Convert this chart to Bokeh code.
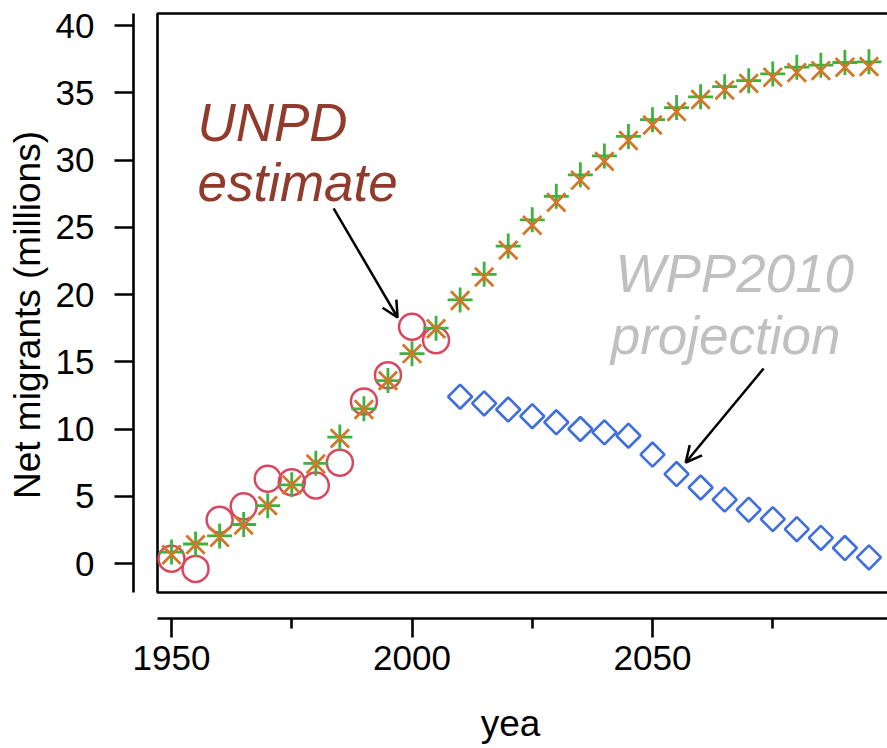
from bokeh.plotting import figure
from bokeh.models import Range1d, FixedTicker, Label, Arrow, OpenHead
from bokeh.embed import file_html
from bokeh.resources import INLINE
import math

# ---- data ----
est_years = [1950, 1955, 1960, 1965, 1970, 1975, 1980, 1985, 1990, 1995, 2000, 2005]
unpd_estimate = [0.35, -0.4, 3.25, 4.25, 6.3, 6.05, 5.8, 7.5, 12.05, 14.0, 17.6, 16.6]

proj_years = [1950, 1955, 1960, 1965, 1970, 1975, 1980, 1985, 1990, 1995,
              2000, 2005, 2010, 2015, 2020, 2025, 2030, 2035, 2040, 2045,
              2050, 2055, 2060, 2065, 2070, 2075, 2080, 2085, 2090, 2095]
series_plus = [0.85, 1.45, 2.05, 2.9, 4.3, 5.85, 7.45, 9.4, 11.5, 13.6,
               15.6, 17.5, 19.6, 21.5, 23.6, 25.55, 27.3, 28.9, 30.3, 31.75,
               33.0, 33.9, 34.7, 35.45, 35.9, 36.4, 36.9, 37.05, 37.25, 37.3]
series_x = [0.65, 1.4, 1.95, 2.85, 4.3, 5.85, 7.4, 9.3, 11.45, 13.6,
            15.6, 17.45, 19.55, 21.3, 23.3, 25.15, 26.85, 28.5, 29.9, 31.45,
            32.6, 33.6, 34.5, 35.2, 35.7, 36.15, 36.5, 36.65, 36.9, 36.95]

wpp_years = [2010, 2015, 2020, 2025, 2030, 2035, 2040, 2045, 2050,
             2055, 2060, 2065, 2070, 2075, 2080, 2085, 2090, 2095]
wpp2010 = [12.4, 11.9, 11.45, 10.95, 10.5, 10.0, 9.75, 9.5, 8.1,
           6.65, 5.65, 4.75, 4.0, 3.3, 2.55, 1.9, 1.15, 0.45]

y_ticks = [0, 5, 10, 15, 20, 25, 30, 35, 40]
x_major_ticks = [1950, 2000, 2050]
x_minor_ticks = [1975, 2025, 2075]

# ---- layout constants ----
W, H = 887, 748
B_LEFT, B_RIGHT, B_TOP, B_BOTTOM = 133, 0, 11, 130
FRAME_W = W - B_LEFT - B_RIGHT
FRAME_H = H - B_TOP - B_BOTTOM
PX_YR = 4.81
PX_UNIT = 13.45
x0 = 1950 - (171 - B_LEFT) / PX_YR
x1 = x0 + FRAME_W / PX_YR
y_top = (563 - B_TOP) / PX_UNIT
y_bot = y_top - FRAME_H / PX_UNIT
box_left = x0 + 24 / PX_YR
box_top = y_top - 2 / PX_UNIT
box_bottom = y_bot + 26 / PX_UNIT

FONT = "Liberation Sans"

p = figure(width=W, height=H, output_backend="svg", toolbar_location=None,
           x_range=Range1d(x0, x1), y_range=Range1d(y_bot, y_top),
           min_border_left=B_LEFT, min_border_right=B_RIGHT,
           min_border_top=B_TOP, min_border_bottom=B_BOTTOM)
p.outline_line_color = None
p.xgrid.visible = False
p.ygrid.visible = False
p.background_fill_color = "white"
p.border_fill_color = "white"

# box (top, left, bottom; right side runs off the page)
p.line([x1 + 5, box_left, box_left, x1 + 5], [box_top, box_top, box_bottom, box_bottom],
       line_color="black", line_width=2.6)

# data
p.scatter(est_years, unpd_estimate, marker="circle", size=26, fill_color=None,
          line_color="#D9475E", line_width=2.5)
p.scatter(proj_years, series_plus, marker="cross", size=25, line_color="#3DB33D", line_width=2.8)
p.scatter(proj_years, series_x, marker="x", size=26, line_color="#D2772A", line_width=2.8)
p.scatter(wpp_years, wpp2010, marker="square", angle=math.pi / 4, size=17, fill_color=None,
          line_color="#3F6FDF", line_width=2.6)

# axes
for ax in (p.xaxis[0], p.yaxis[0]):
    ax.axis_line_width = 2.6
    ax.major_tick_line_width = 2.6
    ax.minor_tick_line_width = 2.6
    ax.major_tick_in = 0
    ax.minor_tick_in = 0
    ax.major_tick_out = 19
    ax.major_label_text_font = FONT
    ax.major_label_text_font_size = "35px"
    ax.major_label_text_color = "black"
    ax.axis_label_text_font = FONT
    ax.axis_label_text_font_size = "37px"
    ax.axis_label_text_font_style = "normal"
    ax.axis_label_text_color = "black"

p.yaxis.ticker = FixedTicker(ticks=y_ticks)
p.yaxis.bounds = (box_bottom, box_top)
p.yaxis.minor_tick_line_color = None
p.yaxis.major_label_standoff = 20
p.yaxis.axis_label = "Net migrants (millions)"
p.yaxis.axis_label_standoff = 5

p.xaxis.ticker = FixedTicker(ticks=x_major_ticks, minor_ticks=x_minor_ticks)
p.xaxis.bounds = (box_left, x1)
p.xaxis.minor_tick_out = 10
p.xaxis.major_label_standoff = 8
p.xaxis.axis_label = "yea"
p.xaxis.axis_label_standoff = 30

# annotations
ann = dict(text_font=FONT, text_font_style="italic", text_font_size="53px",
           text_baseline="alphabetic", text_align="left")
dy = 20 / PX_UNIT
p.add_layout(Label(x=1955.4, y=31.3 + dy, text="UNPD", text_color="#903B2C", **ann))
p.add_layout(Label(x=1955.4, y=26.84 + dy, text="estimate", text_color="#903B2C", **ann))
p.add_layout(Label(x=2042.3, y=20.07 + dy, text="WPP2010", text_color="#C0C0C0", **ann))
p.add_layout(Label(x=2041.3, y=15.46 + dy, text="projection", text_color="#C0C0C0", **ann))

p.add_layout(Arrow(end=OpenHead(size=16, line_width=2.5, line_color="black"),
                   x_start=1983.7, y_start=26.4, x_end=1997.0, y_end=18.29,
                   line_width=2.5, line_color="black"))
p.add_layout(Arrow(end=OpenHead(size=16, line_width=2.5, line_color="black"),
                   x_start=2073.1, y_start=14.5, x_end=2056.9, y_end=7.51,
                   line_width=2.5, line_color="black"))

open("out.html", "w").write(file_html(p, INLINE))
